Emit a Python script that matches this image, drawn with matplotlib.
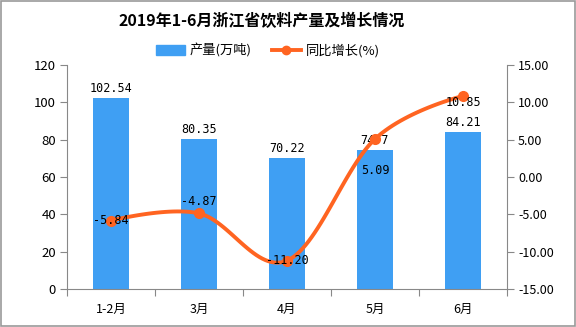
import numpy as np
import matplotlib
matplotlib.use("Agg")
import matplotlib.pyplot as plt
from matplotlib.lines import Line2D
from matplotlib.patches import Patch, Rectangle

plt.rcParams['font.family'] = ['Noto Sans CJK SC', 'DejaVu Sans']

# data
categories = ['1-2月', '3月', '4月', '5月', '6月']
output = [102.54, 80.35, 70.22, 74.7, 84.21]
growth = [-5.84, -4.87, -11.20, 5.09, 10.85]
output_labels = ['102.54', '80.35', '70.22', '74.7', '84.21']
growth_labels = ['-5.84', '-4.87', '-11.20', '5.09', '10.85']

bar_color = '#3F9FF3'
line_color = '#FF6421'
axis_color = '#888888'


def smooth_curve(x, y, n=30, k=0.35):
    """Smooth line through points with cubic bezier segments (rendering only)"""
    x = np.asarray(x, float)
    y = np.asarray(y, float)
    xs, ys = [], []
    for i in range(len(x) - 1):
        p0 = np.array([x[i], y[i]])
        p3 = np.array([x[i + 1], y[i + 1]])
        prev = np.array([x[i - 1], y[i - 1]]) if i > 0 else p0
        nxt = np.array([x[i + 2], y[i + 2]]) if i + 2 < len(x) else p3
        p1 = p0 + (p3 - prev) * k / 2 * (1 if i > 0 else 0)
        p2 = p3 - (nxt - p0) * k / 2 * (1 if i + 2 < len(x) else 0)
        t = np.linspace(0, 1, n)[:, None]
        pts = ((1 - t) ** 3) * p0 + 3 * ((1 - t) ** 2) * t * p1 \
            + 3 * (1 - t) * t ** 2 * p2 + t ** 3 * p3
        xs.append(pts[:, 0])
        ys.append(pts[:, 1])
    return np.concatenate(xs), np.concatenate(ys)


fig = plt.figure(figsize=(5.76, 3.27), dpi=100)
fig.patches.append(Rectangle((0.001, 0.002), 0.997, 0.996, transform=fig.transFigure,
                             fill=False, edgecolor='#999999', linewidth=1.2))

ax = fig.add_axes([0.1163, 0.1162, 0.7639, 0.6850])
x = np.arange(len(categories))
ax.bar(x, output, width=0.41, color=bar_color, zorder=2)
ax.set_xlim(-0.5, len(categories) - 0.5)
ax.set_ylim(0, 120)
ax.set_yticks(np.arange(0, 121, 20))
ax.set_xticks(np.arange(-0.5, len(categories), 1))
ax.set_xticklabels([])
ax.set_xticks(x, minor=True)
ax.set_xticklabels(categories, minor=True)
ax.tick_params(axis='x', which='minor', length=0, pad=10, labelsize=9)
ax.tick_params(axis='x', which='major', length=5, color=axis_color)
ax.tick_params(axis='y', length=5, color=axis_color, labelsize=9.5, pad=3)
for s in ['top', 'right']:
    ax.spines[s].set_visible(False)
for s in ['left', 'bottom']:
    ax.spines[s].set_color(axis_color)

for xi, v, lab in zip(x, output, output_labels):
    ax.text(xi, v + 1.5, lab, ha='center', va='bottom', fontsize=8.5,
            family=['DejaVu Sans Mono'], zorder=5)

ax2 = ax.twinx()
ax2.set_ylim(-15, 15)
ax2.set_yticks(np.arange(-15, 16, 5))
ax2.set_yticklabels([f'{t:.2f}' for t in np.arange(-15, 16, 5)])
ax2.tick_params(axis='y', length=5, color=axis_color, labelsize=9, pad=3)
for s in ['top', 'left', 'bottom']:
    ax2.spines[s].set_visible(False)
ax2.spines['right'].set_color(axis_color)

sx, sy = smooth_curve(x, growth)
ax2.plot(sx, sy, color=line_color, linewidth=2.8, zorder=3)
ax2.plot(x, growth, 'o', color=line_color, markersize=7, zorder=4)

offsets = [(0, 0), (0, 1.6), (0, 0), (0, -4.2), (0, -0.85)]
for xi, v, lab, (dx, dy) in zip(x, growth, growth_labels, offsets):
    ax2.text(xi + dx, v + dy, lab, ha='center', va='center',
             fontsize=8.5, family=['DejaVu Sans Mono'], zorder=5)

fig.text(0.455, 0.935, '2019年1-6月浙江省饮料产量及增长情况', ha='center', va='center',
         fontsize=11.5, fontweight='bold')

handles = [Patch(color=bar_color),
           Line2D([0], [0], color=line_color, linewidth=2.8, marker='o', markersize=6)]
fig.legend(handles, ['产量(万吨)', '同比增长(%)'], loc='center', bbox_to_anchor=(0.465, 0.845),
           ncol=2, frameon=False, fontsize=9.5, handlelength=2.2, columnspacing=1.5,
           handletextpad=0.4)

fig.savefig('out.png', dpi=100)
